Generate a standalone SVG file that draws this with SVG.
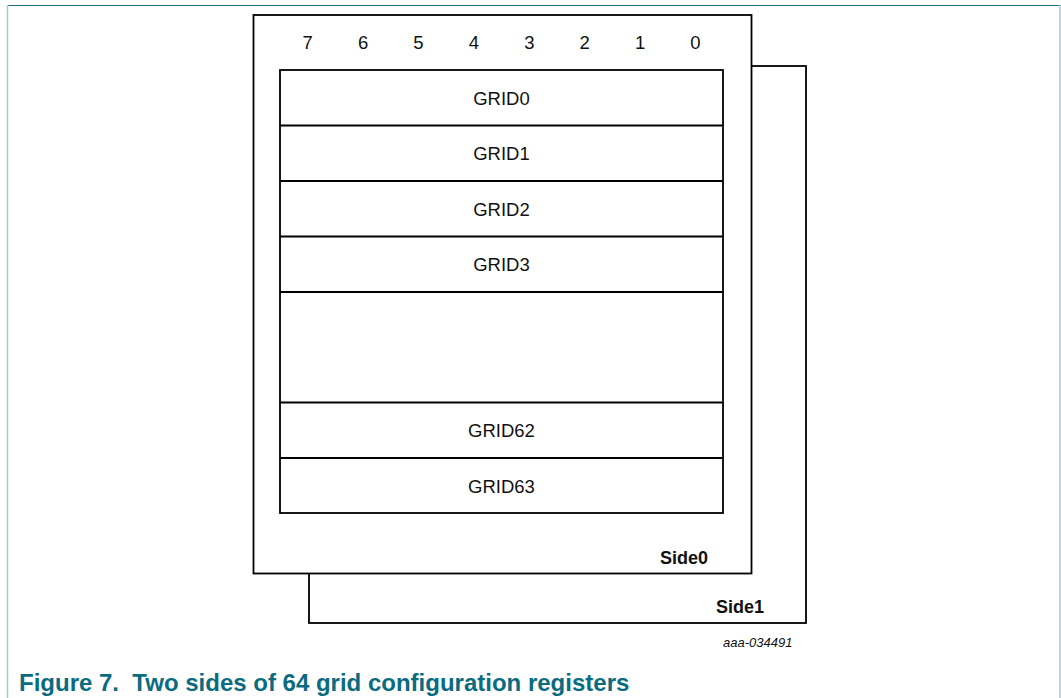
<svg xmlns="http://www.w3.org/2000/svg" width="1061" height="698" viewBox="0 0 1061 698">
<style>
.box{fill:#ffffff;stroke:#000000;stroke-width:1.8}
.row{fill:none;stroke:#000000;stroke-width:1.8}
.t{font-family:"Liberation Sans",Arial,sans-serif;font-size:18.5px;fill:#111111;text-anchor:middle}
.b{font-family:"Liberation Sans",Arial,sans-serif;font-size:18px;font-weight:bold;fill:#111111}
</style>
<rect x="0" y="0" width="1061" height="698" fill="#ffffff"/>
<g id="frame">
<line x1="7" y1="5.5" x2="1061" y2="5.5" stroke="#1f6f7c" stroke-width="1.2"/>
<line x1="7.5" y1="5" x2="7.5" y2="698" stroke="#a6cbd6" stroke-width="1.5"/>
<line x1="1060" y1="5" x2="1060" y2="698" stroke="#a6cbd6" stroke-width="1.5"/>
</g>
<g id="side1">
<rect class="box" x="309" y="66" width="497" height="557"/>
<text class="b" x="716" y="613">Side1</text>
</g>
<g id="side0">
<rect class="box" x="253.5" y="15" width="498" height="558.5"/>
<text class="b" x="660" y="564">Side0</text>
</g>
<g id="bits">
<text class="t" x="307.7" y="49">7</text>
<text class="t" x="363.1" y="49">6</text>
<text class="t" x="418.5" y="49">5</text>
<text class="t" x="473.9" y="49">4</text>
<text class="t" x="529.3" y="49">3</text>
<text class="t" x="584.7" y="49">2</text>
<text class="t" x="640.1" y="49">1</text>
<text class="t" x="695.5" y="49">0</text>
</g>
<g id="registers">
<rect class="box" x="280" y="70" width="443" height="443"/>
<line class="row" x1="280" y1="125.5" x2="723" y2="125.5"/>
<line class="row" x1="280" y1="181" x2="723" y2="181"/>
<line class="row" x1="280" y1="236.5" x2="723" y2="236.5"/>
<line class="row" x1="280" y1="292" x2="723" y2="292"/>
<line class="row" x1="280" y1="402.5" x2="723" y2="402.5"/>
<line class="row" x1="280" y1="458" x2="723" y2="458"/>
</g>
<g id="grid0"><text class="t" x="501.5" y="104.5">GRID0</text></g>
<g id="grid1"><text class="t" x="501.5" y="160">GRID1</text></g>
<g id="grid2"><text class="t" x="501.5" y="215.5">GRID2</text></g>
<g id="grid3"><text class="t" x="501.5" y="271">GRID3</text></g>
<g id="grid62"><text class="t" x="501.5" y="437">GRID62</text></g>
<g id="grid63"><text class="t" x="501.5" y="492.5">GRID63</text></g>
<text x="723" y="647" font-family="'Liberation Sans',Arial,sans-serif" font-size="13" font-style="italic" fill="#111111">aaa-034491</text>
<text x="19" y="690.5" font-family="'Liberation Sans',Arial,sans-serif" font-size="24" font-weight="bold" fill="#0b6b80" xml:space="preserve">Figure 7.  Two sides of 64 grid configuration registers</text>
</svg>
